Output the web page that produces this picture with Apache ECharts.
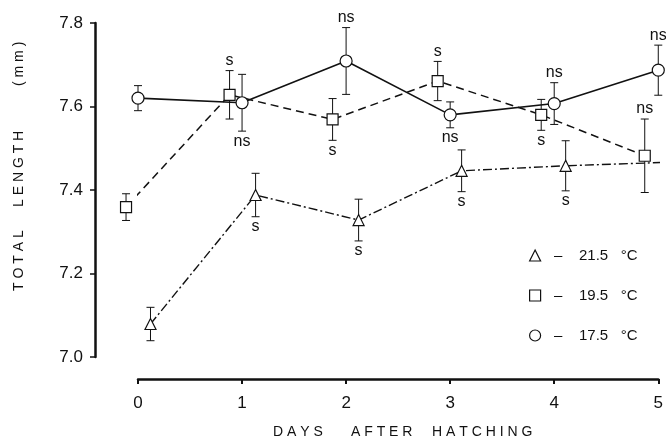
<!DOCTYPE html>
<html>
<head>
<meta charset="utf-8">
<script src="https://cdn.jsdelivr.net/npm/echarts@6/dist/echarts.min.js"></script>
<style>html,body{margin:0;padding:0;background:#fff;}#c{width:666px;height:444px;}</style>
</head>
<body>
<div id="c"></div>
<script>
// ---- data ----
var yTicks = [7.0, 7.2, 7.4, 7.6, 7.8];
var xTicks = [0, 1, 2, 3, 4, 5];

var circName = '17.5 °C';
var circX = [0.0, 1.0, 2.0, 3.0, 4.0, 5.0];
var circY = [7.620, 7.609, 7.709, 7.580, 7.607, 7.687];
var circErr = [0.030, 0.068, 0.080, 0.031, 0.050, 0.060];
var circSig = ['', 'ns', 'ns', 'ns', 'ns', 'ns'];
var circSigPos = ['', 'below', 'above', 'below', 'above', 'above'];

var sqName = '19.5 °C';
var sqX = [-0.115, 0.88, 1.87, 2.88, 3.875, 4.87];
var sqY = [7.359, 7.628, 7.569, 7.661, 7.580, 7.482];
var sqErr = [0.032, 0.058, 0.050, 0.047, 0.037, 0.088];
var sqSig = ['', 's', 's', 's', 's', 'ns'];
var sqSigPos = ['', 'above', 'below', 'above', 'below', 'above'];

var triName = '21.5 °C';
var triX = [0.12, 1.13, 2.12, 3.11, 4.11, 5.05];
var triY = [7.079, 7.388, 7.328, 7.446, 7.458, 7.466];
var triErr = [0.040, 0.052, 0.050, 0.050, 0.060, null];
var triSig = ['', 's', 's', 's', 's', ''];
var triSigPos = ['', 'below', 'below', 'below', 'below', ''];

var xTitleWords = ['D A Y S', 'A F T E R', 'H A T C H I N G'];
var yTitleWords = ['T O T A L', 'L E N G T H', '( m m )'];

// ---- chart ----
var FONT = '"Liberation Sans", Arial, sans-serif';
var chart = echarts.init(document.getElementById('c'), null, {renderer: 'canvas'});

function lineData(xs, ys, lastNoSymbol) {
  return xs.map(function (x, i) {
    var d = {value: [x, ys[i]]};
    if (lastNoSymbol && i === xs.length - 1) { d.symbol = 'none'; }
    return d;
  });
}

function errSeries(xs, ys, errs, sig, sigPos) {
  var data = [];
  xs.forEach(function (x, i) { data.push([x, ys[i], errs[i] == null ? 0 : errs[i], i]); });
  return {
    type: 'custom',
    clip: false,
    z: 1,
    silent: true,
    data: data,
    renderItem: function (params, api) {
      var i = api.value(3);
      var x = api.value(0), y = api.value(1), e = api.value(2);
      var top = api.coord([x, y + e]);
      var bot = api.coord([x, y - e]);
      var children = [];
      var st = {stroke: '#111', lineWidth: 1};
      if (e > 0) {
        var w = 4;
        children.push({type: 'line', shape: {x1: top[0], y1: top[1], x2: bot[0], y2: bot[1]}, style: st});
        children.push({type: 'line', shape: {x1: top[0] - w, y1: top[1], x2: top[0] + w, y2: top[1]}, style: st});
        children.push({type: 'line', shape: {x1: bot[0] - w, y1: bot[1], x2: bot[0] + w, y2: bot[1]}, style: st});
      }
      var idx = Math.round(i);
      if (sig[idx]) {
        var above = sigPos[idx] === 'above';
        children.push({
          type: 'text',
          style: {
            text: sig[idx],
            x: top[0],
            y: above ? top[1] - 2 : bot[1] + 2,
            align: 'center',
            verticalAlign: above ? 'bottom' : 'top',
            font: '16px ' + FONT,
            fill: '#111'
          }
        });
      }
      return {type: 'group', children: children};
    }
  };
}

var symStyle = {color: '#fff', borderColor: '#111', borderWidth: 1.2};
var titleFont = '14px ' + FONT;

var option = {
  animation: false,
  backgroundColor: '#fff',
  grid: {left: 138, right: 5, top: 23, bottom: 87, containLabel: false},
  xAxis: {
    type: 'value', min: 0, max: 5, interval: 1,
    offset: 22,
    axisLine: {show: true, onZero: false, lineStyle: {color: '#111', width: 2.5}},
    axisTick: {show: true, inside: false, length: 5, lineStyle: {color: '#111', width: 2}},
    axisLabel: {color: '#111', fontSize: 17, fontFamily: FONT, margin: 16,
      formatter: function (v) { return xTicks.indexOf(v) >= 0 ? String(v) : ''; }},
    splitLine: {show: false}
  },
  yAxis: {
    type: 'value', min: 7.0, max: 7.8, interval: 0.2,
    offset: 43,
    axisLine: {show: true, onZero: false, lineStyle: {color: '#111', width: 2.5}},
    axisTick: {show: true, inside: false, length: 5, lineStyle: {color: '#111', width: 1.5}},
    axisLabel: {color: '#111', fontSize: 17, fontFamily: FONT, margin: 12,
      formatter: function (v) { return v.toFixed(1); }},
    splitLine: {show: false}
  },
  legend: {
    orient: 'vertical',
    left: 524, top: 243,
    itemGap: 25,
    itemWidth: 11, itemHeight: 11,
    textStyle: {color: '#111', fontSize: 15, fontFamily: FONT},
    formatter: function (n) { return '  –    ' + n.replace(' °C', '   °C'); },
    data: [
      {name: triName, icon: 'triangle', itemStyle: symStyle},
      {name: sqName, icon: 'rect', itemStyle: symStyle},
      {name: circName, icon: 'circle', itemStyle: symStyle}
    ]
  },
  series: [
    errSeries(circX, circY, circErr, circSig, circSigPos),
    errSeries(sqX, sqY, sqErr, sqSig, sqSigPos),
    errSeries(triX, triY, triErr, triSig, triSigPos),
    {
      name: circName, type: 'line', clip: false, z: 3,
      data: lineData(circX, circY, false),
      symbol: 'circle', symbolSize: 12,
      itemStyle: symStyle,
      lineStyle: {color: '#111', width: 1.6, type: 'solid'}
    },
    {
      name: sqName, type: 'line', clip: false, z: 3,
      data: lineData(sqX, sqY, false),
      symbol: 'rect', symbolSize: 11,
      itemStyle: symStyle,
      lineStyle: {color: '#111', width: 1.5, type: [8, 5]}
    },
    {
      name: triName, type: 'line', clip: false, z: 3,
      data: lineData(triX, triY, true),
      symbol: 'triangle', symbolSize: 11,
      itemStyle: symStyle,
      lineStyle: {color: '#111', width: 1.4, type: [9, 3, 2, 3]}
    }
  ],
  graphic: [
    {type: 'text', left: 273, top: 425, style: {text: xTitleWords[0], font: titleFont, fill: '#111'}},
    {type: 'text', left: 351, top: 425, style: {text: xTitleWords[1], font: titleFont, fill: '#111'}},
    {type: 'text', left: 432, top: 425, style: {text: xTitleWords[2], font: titleFont, fill: '#111'}},
    {type: 'text', x: 12, y: 291, rotation: Math.PI / 2,
      style: {text: yTitleWords[0], font: titleFont, fill: '#111', align: 'left', verticalAlign: 'top'}},
    {type: 'text', x: 12, y: 207, rotation: Math.PI / 2,
      style: {text: yTitleWords[1], font: titleFont, fill: '#111', align: 'left', verticalAlign: 'top'}},
    {type: 'text', x: 12, y: 86, rotation: Math.PI / 2,
      style: {text: yTitleWords[2], font: titleFont, fill: '#111', align: 'left', verticalAlign: 'top'}}
  ]
};
chart.setOption(option);
</script>
</body>
</html>
